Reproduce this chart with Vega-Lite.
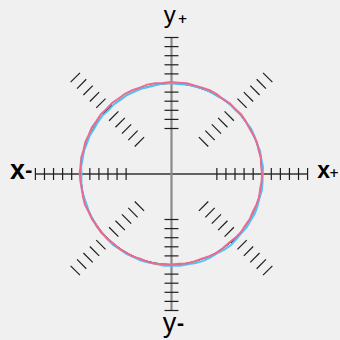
{
  "$schema": "https://vega.github.io/schema/vega-lite/v6.json",
  "width": 340,
  "height": 340,
  "autosize": {"type": "fit", "contains": "padding"},
  "padding": 0,
  "background": "#f0f0f0",
  "config": {"view": {"stroke": null}},
  "datasets": {
    "axes": [
      {"axis": "h", "x": -1.5, "x2": 1.5, "y": 0, "y2": 0},
      {"axis": "v", "x": 0, "x2": 0, "y": -1.5, "y2": 1.5}
    ],
    "ticks": [
      {"x": -1.5, "x2": -1.5, "y": -0.066, "y2": 0.066},
      {"x": -1.4, "x2": -1.4, "y": -0.066, "y2": 0.066},
      {"x": -1.3, "x2": -1.3, "y": -0.066, "y2": 0.066},
      {"x": -1.2, "x2": -1.2, "y": -0.066, "y2": 0.066},
      {"x": -1.1, "x2": -1.1, "y": -0.066, "y2": 0.066},
      {"x": -1.0, "x2": -1.0, "y": -0.066, "y2": 0.066},
      {"x": -0.9, "x2": -0.9, "y": -0.066, "y2": 0.066},
      {"x": -0.8, "x2": -0.8, "y": -0.066, "y2": 0.066},
      {"x": -0.7, "x2": -0.7, "y": -0.066, "y2": 0.066},
      {"x": -0.6, "x2": -0.6, "y": -0.066, "y2": 0.066},
      {"x": -0.5, "x2": -0.5, "y": -0.066, "y2": 0.066},
      {"x": 0.5, "x2": 0.5, "y": -0.066, "y2": 0.066},
      {"x": 0.6, "x2": 0.6, "y": -0.066, "y2": 0.066},
      {"x": 0.7, "x2": 0.7, "y": -0.066, "y2": 0.066},
      {"x": 0.8, "x2": 0.8, "y": -0.066, "y2": 0.066},
      {"x": 0.9, "x2": 0.9, "y": -0.066, "y2": 0.066},
      {"x": 1.0, "x2": 1.0, "y": -0.066, "y2": 0.066},
      {"x": 1.1, "x2": 1.1, "y": -0.066, "y2": 0.066},
      {"x": 1.2, "x2": 1.2, "y": -0.066, "y2": 0.066},
      {"x": 1.3, "x2": 1.3, "y": -0.066, "y2": 0.066},
      {"x": 1.4, "x2": 1.4, "y": -0.066, "y2": 0.066},
      {"x": 1.5, "x2": 1.5, "y": -0.066, "y2": 0.066},
      {"x": -0.077, "x2": 0.077, "y": -1.5, "y2": -1.5},
      {"x": -0.077, "x2": 0.077, "y": -1.4, "y2": -1.4},
      {"x": -0.077, "x2": 0.077, "y": -1.3, "y2": -1.3},
      {"x": -0.077, "x2": 0.077, "y": -1.2, "y2": -1.2},
      {"x": -0.077, "x2": 0.077, "y": -1.1, "y2": -1.1},
      {"x": -0.077, "x2": 0.077, "y": -1.0, "y2": -1.0},
      {"x": -0.077, "x2": 0.077, "y": -0.9, "y2": -0.9},
      {"x": -0.077, "x2": 0.077, "y": -0.8, "y2": -0.8},
      {"x": -0.077, "x2": 0.077, "y": -0.7, "y2": -0.7},
      {"x": -0.077, "x2": 0.077, "y": -0.6, "y2": -0.6},
      {"x": -0.077, "x2": 0.077, "y": -0.5, "y2": -0.5},
      {"x": -0.077, "x2": 0.077, "y": 0.5, "y2": 0.5},
      {"x": -0.077, "x2": 0.077, "y": 0.6, "y2": 0.6},
      {"x": -0.077, "x2": 0.077, "y": 0.7, "y2": 0.7},
      {"x": -0.077, "x2": 0.077, "y": 0.8, "y2": 0.8},
      {"x": -0.077, "x2": 0.077, "y": 0.9, "y2": 0.9},
      {"x": -0.077, "x2": 0.077, "y": 1.0, "y2": 1.0},
      {"x": -0.077, "x2": 0.077, "y": 1.1, "y2": 1.1},
      {"x": -0.077, "x2": 0.077, "y": 1.2, "y2": 1.2},
      {"x": -0.077, "x2": 0.077, "y": 1.3, "y2": 1.3},
      {"x": -0.077, "x2": 0.077, "y": 1.4, "y2": 1.4},
      {"x": -0.077, "x2": 0.077, "y": 1.5, "y2": 1.5},
      {"x": 0.302, "y": 0.405, "x2": 0.405, "y2": 0.302},
      {"x": 0.373, "y": 0.476, "x2": 0.476, "y2": 0.373},
      {"x": 0.444, "y": 0.546, "x2": 0.546, "y2": 0.444},
      {"x": 0.514, "y": 0.617, "x2": 0.617, "y2": 0.514},
      {"x": 0.585, "y": 0.688, "x2": 0.688, "y2": 0.585},
      {"x": 0.656, "y": 0.758, "x2": 0.758, "y2": 0.656},
      {"x": 0.727, "y": 0.829, "x2": 0.829, "y2": 0.727},
      {"x": 0.797, "y": 0.900, "x2": 0.900, "y2": 0.797},
      {"x": 0.868, "y": 0.971, "x2": 0.971, "y2": 0.868},
      {"x": 0.939, "y": 1.041, "x2": 1.041, "y2": 0.939},
      {"x": 1.009, "y": 1.112, "x2": 1.112, "y2": 1.009},
      {"x": -0.405, "y": 0.302, "x2": -0.302, "y2": 0.405},
      {"x": -0.476, "y": 0.373, "x2": -0.373, "y2": 0.476},
      {"x": -0.546, "y": 0.444, "x2": -0.444, "y2": 0.546},
      {"x": -0.617, "y": 0.514, "x2": -0.514, "y2": 0.617},
      {"x": -0.688, "y": 0.585, "x2": -0.585, "y2": 0.688},
      {"x": -0.758, "y": 0.656, "x2": -0.656, "y2": 0.758},
      {"x": -0.829, "y": 0.727, "x2": -0.727, "y2": 0.829},
      {"x": -0.900, "y": 0.797, "x2": -0.797, "y2": 0.900},
      {"x": -0.971, "y": 0.868, "x2": -0.868, "y2": 0.971},
      {"x": -1.041, "y": 0.939, "x2": -0.939, "y2": 1.041},
      {"x": -1.112, "y": 1.009, "x2": -1.009, "y2": 1.112},
      {"x": -0.405, "y": -0.302, "x2": -0.302, "y2": -0.405},
      {"x": -0.476, "y": -0.373, "x2": -0.373, "y2": -0.476},
      {"x": -0.546, "y": -0.444, "x2": -0.444, "y2": -0.546},
      {"x": -0.617, "y": -0.514, "x2": -0.514, "y2": -0.617},
      {"x": -0.688, "y": -0.585, "x2": -0.585, "y2": -0.688},
      {"x": -0.758, "y": -0.656, "x2": -0.656, "y2": -0.758},
      {"x": -0.829, "y": -0.727, "x2": -0.727, "y2": -0.829},
      {"x": -0.900, "y": -0.797, "x2": -0.797, "y2": -0.900},
      {"x": -0.971, "y": -0.868, "x2": -0.868, "y2": -0.971},
      {"x": -1.041, "y": -0.939, "x2": -0.939, "y2": -1.041},
      {"x": -1.112, "y": -1.009, "x2": -1.009, "y2": -1.112},
      {"x": 0.302, "y": -0.405, "x2": 0.405, "y2": -0.302},
      {"x": 0.373, "y": -0.476, "x2": 0.476, "y2": -0.373},
      {"x": 0.444, "y": -0.546, "x2": 0.546, "y2": -0.444},
      {"x": 0.514, "y": -0.617, "x2": 0.617, "y2": -0.514},
      {"x": 0.585, "y": -0.688, "x2": 0.688, "y2": -0.585},
      {"x": 0.656, "y": -0.758, "x2": 0.758, "y2": -0.656},
      {"x": 0.727, "y": -0.829, "x2": 0.829, "y2": -0.727},
      {"x": 0.797, "y": -0.900, "x2": 0.900, "y2": -0.797},
      {"x": 0.868, "y": -0.971, "x2": 0.971, "y2": -0.868},
      {"x": 0.939, "y": -1.041, "x2": 1.041, "y2": -0.939},
      {"x": 1.009, "y": -1.112, "x2": 1.112, "y2": -1.009}
    ],
    "centre": [{"x": 0, "y": 0}],
    "pink": [
      {"i": 0, "x": 0.998, "y": 0.006}, {"i": 1, "x": 0.987, "y": 0.093}, {"i": 2, "x": 0.985, "y": 0.181},
      {"i": 3, "x": 0.960, "y": 0.265}, {"i": 4, "x": 0.941, "y": 0.351}, {"i": 5, "x": 0.902, "y": 0.429},
      {"i": 6, "x": 0.857, "y": 0.504}, {"i": 7, "x": 0.817, "y": 0.582}, {"i": 8, "x": 0.768, "y": 0.655},
      {"i": 9, "x": 0.703, "y": 0.715}, {"i": 10, "x": 0.642, "y": 0.778}, {"i": 11, "x": 0.566, "y": 0.824},
      {"i": 12, "x": 0.497, "y": 0.877}, {"i": 13, "x": 0.421, "y": 0.921}, {"i": 14, "x": 0.337, "y": 0.949},
      {"i": 15, "x": 0.253, "y": 0.972}, {"i": 16, "x": 0.169, "y": 0.998}, {"i": 17, "x": 0.081, "y": 1.004},
      {"i": 18, "x": -0.006, "y": 1.011}, {"i": 19, "x": -0.093, "y": 1.000}, {"i": 20, "x": -0.181, "y": 0.997},
      {"i": 21, "x": -0.267, "y": 0.982}, {"i": 22, "x": -0.349, "y": 0.949}, {"i": 23, "x": -0.432, "y": 0.920},
      {"i": 24, "x": -0.512, "y": 0.882}, {"i": 25, "x": -0.583, "y": 0.830}, {"i": 26, "x": -0.655, "y": 0.780},
      {"i": 27, "x": -0.716, "y": 0.716}, {"i": 28, "x": -0.779, "y": 0.655}, {"i": 29, "x": -0.827, "y": 0.581},
      {"i": 30, "x": -0.878, "y": 0.510}, {"i": 31, "x": -0.912, "y": 0.429}, {"i": 32, "x": -0.950, "y": 0.350},
      {"i": 33, "x": -0.969, "y": 0.264}, {"i": 34, "x": -0.995, "y": 0.180}, {"i": 35, "x": -1.002, "y": 0.093},
      {"i": 36, "x": -1.012, "y": 0.006}, {"i": 37, "x": -1.004, "y": -0.081}, {"i": 38, "x": -0.987, "y": -0.167},
      {"i": 39, "x": -0.975, "y": -0.254}, {"i": 40, "x": -0.953, "y": -0.339}, {"i": 41, "x": -0.912, "y": -0.417},
      {"i": 42, "x": -0.876, "y": -0.497}, {"i": 43, "x": -0.824, "y": -0.567}, {"i": 44, "x": -0.777, "y": -0.641},
      {"i": 45, "x": -0.715, "y": -0.703}, {"i": 46, "x": -0.647, "y": -0.758}, {"i": 47, "x": -0.582, "y": -0.817},
      {"i": 48, "x": -0.506, "y": -0.860}, {"i": 49, "x": -0.431, "y": -0.906}, {"i": 50, "x": -0.347, "y": -0.932},
      {"i": 51, "x": -0.266, "y": -0.963}, {"i": 52, "x": -0.181, "y": -0.986}, {"i": 53, "x": -0.093, "y": -0.990},
      {"i": 54, "x": -0.006, "y": -0.998}, {"i": 55, "x": 0.081, "y": -0.987}, {"i": 56, "x": 0.168, "y": -0.984},
      {"i": 57, "x": 0.253, "y": -0.960}, {"i": 58, "x": 0.335, "y": -0.930}, {"i": 59, "x": 0.418, "y": -0.903},
      {"i": 60, "x": 0.497, "y": -0.866}, {"i": 61, "x": 0.568, "y": -0.813}, {"i": 62, "x": 0.634, "y": -0.756},
      {"i": 63, "x": 0.702, "y": -0.702}, {"i": 64, "x": 0.765, "y": -0.641}, {"i": 65, "x": 0.812, "y": -0.566},
      {"i": 66, "x": 0.863, "y": -0.495}, {"i": 67, "x": 0.897, "y": -0.415}, {"i": 68, "x": 0.936, "y": -0.337},
      {"i": 69, "x": 0.966, "y": -0.254}, {"i": 70, "x": 0.977, "y": -0.167}, {"i": 71, "x": 0.993, "y": -0.081},
      {"i": 72, "x": 0.998, "y": 0.006}
    ],
    "cyan": [
      {"i": 0, "x": 1.006, "y": -0.006}, {"i": 1, "x": 1.008, "y": 0.082}, {"i": 2, "x": 0.989, "y": 0.167},
      {"i": 3, "x": 0.976, "y": 0.254}, {"i": 4, "x": 0.942, "y": 0.335}, {"i": 5, "x": 0.914, "y": 0.417},
      {"i": 6, "x": 0.878, "y": 0.498}, {"i": 7, "x": 0.824, "y": 0.566}, {"i": 8, "x": 0.774, "y": 0.639},
      {"i": 9, "x": 0.710, "y": 0.698}, {"i": 10, "x": 0.649, "y": 0.761}, {"i": 11, "x": 0.583, "y": 0.818},
      {"i": 12, "x": 0.505, "y": 0.857}, {"i": 13, "x": 0.429, "y": 0.902}, {"i": 14, "x": 0.350, "y": 0.939},
      {"i": 15, "x": 0.265, "y": 0.959}, {"i": 16, "x": 0.180, "y": 0.983}, {"i": 17, "x": 0.093, "y": 0.986},
      {"i": 18, "x": 0.006, "y": 0.996}, {"i": 19, "x": -0.082, "y": 0.996}, {"i": 20, "x": -0.168, "y": 0.979},
      {"i": 21, "x": -0.252, "y": 0.956}, {"i": 22, "x": -0.337, "y": 0.937}, {"i": 23, "x": -0.416, "y": 0.899},
      {"i": 24, "x": -0.497, "y": 0.864}, {"i": 25, "x": -0.566, "y": 0.811}, {"i": 26, "x": -0.638, "y": 0.762},
      {"i": 27, "x": -0.698, "y": 0.698}, {"i": 28, "x": -0.763, "y": 0.639}, {"i": 29, "x": -0.813, "y": 0.568},
      {"i": 30, "x": -0.856, "y": 0.492}, {"i": 31, "x": -0.903, "y": 0.418}, {"i": 32, "x": -0.932, "y": 0.335},
      {"i": 33, "x": -0.965, "y": 0.254}, {"i": 34, "x": -0.979, "y": 0.168}, {"i": 35, "x": -0.996, "y": 0.082},
      {"i": 36, "x": -0.992, "y": -0.006}, {"i": 37, "x": -0.994, "y": -0.094}, {"i": 38, "x": -0.987, "y": -0.181},
      {"i": 39, "x": -0.961, "y": -0.265}, {"i": 40, "x": -0.931, "y": -0.347}, {"i": 41, "x": -0.906, "y": -0.431},
      {"i": 42, "x": -0.862, "y": -0.507}, {"i": 43, "x": -0.820, "y": -0.584}, {"i": 44, "x": -0.760, "y": -0.649},
      {"i": 45, "x": -0.705, "y": -0.717}, {"i": 46, "x": -0.643, "y": -0.779}, {"i": 47, "x": -0.569, "y": -0.827},
      {"i": 48, "x": -0.498, "y": -0.878}, {"i": 49, "x": -0.417, "y": -0.912}, {"i": 50, "x": -0.338, "y": -0.951},
      {"i": 51, "x": -0.253, "y": -0.974}, {"i": 52, "x": -0.167, "y": -0.988}, {"i": 53, "x": -0.082, "y": -1.007},
      {"i": 54, "x": 0.006, "y": -1.006}, {"i": 55, "x": 0.094, "y": -1.008}, {"i": 56, "x": 0.180, "y": -0.992},
      {"i": 57, "x": 0.267, "y": -0.979}, {"i": 58, "x": 0.351, "y": -0.955}, {"i": 59, "x": 0.430, "y": -0.915},
      {"i": 60, "x": 0.505, "y": -0.870}, {"i": 61, "x": 0.583, "y": -0.830}, {"i": 62, "x": 0.655, "y": -0.780},
      {"i": 63, "x": 0.716, "y": -0.716}, {"i": 64, "x": 0.771, "y": -0.648}, {"i": 65, "x": 0.830, "y": -0.583},
      {"i": 66, "x": 0.874, "y": -0.507}, {"i": 67, "x": 0.920, "y": -0.432}, {"i": 68, "x": 0.949, "y": -0.349},
      {"i": 69, "x": 0.970, "y": -0.264}, {"i": 70, "x": 0.996, "y": -0.180}, {"i": 71, "x": 1.003, "y": -0.093},
      {"i": 72, "x": 1.006, "y": -0.006}
    ],
    "xLeft": [{"x": -1.698, "y": -0.058, "t": "x"}],
    "xRight": [{"x": 1.676, "y": -0.041, "t": "x"}],
    "yTop": [{"x": -0.019, "y": 1.663, "t": "y"}],
    "yBottom": [{"x": -0.022, "y": -1.733, "t": "y"}],
    "plusSigns": [
      {"x": 1.791, "y": -0.033, "t": "+"},
      {"x": 0.121, "y": 1.655, "t": "+"}
    ],
    "minusSigns": [
      {"x": -1.574, "y": -0.030, "t": "-"},
      {"x": 0.099, "y": -1.719, "t": "-"}
    ]
  },
  "encoding": {
    "x": {"field": "x", "type": "quantitative", "axis": null, "scale": {"domain": [-1.8901, 1.8462], "nice": false, "zero": false}},
    "y": {"field": "y", "type": "quantitative", "axis": null, "scale": {"domain": [-1.8242, 1.9121], "nice": false, "zero": false}}
  },
  "layer": [
    {
      "data": {"name": "axes"},
      "transform": [{"filter": "datum.axis == 'h'"}],
      "mark": {"type": "rule", "color": "#333333", "strokeWidth": 1.5},
      "encoding": {"x2": {"field": "x2"}, "y2": {"field": "y2"}}
    },
    {
      "data": {"name": "axes"},
      "transform": [{"filter": "datum.axis == 'v'"}],
      "mark": {"type": "rule", "color": "#8a8a8a", "strokeWidth": 2.2},
      "encoding": {"x2": {"field": "x2"}, "y2": {"field": "y2"}}
    },
    {
      "data": {"name": "ticks"},
      "mark": {"type": "rule", "color": "#1e1e1e", "strokeWidth": 1.2},
      "encoding": {"x2": {"field": "x2"}, "y2": {"field": "y2"}}
    },
    {
      "data": {"name": "centre"},
      "mark": {"type": "point", "shape": "circle", "filled": false, "stroke": "#222222", "strokeWidth": 1, "size": 32761, "opacity": 1}
    },
    {
      "data": {"name": "cyan"},
      "mark": {"type": "line", "color": "#4fc3f7", "strokeWidth": 2},
      "encoding": {"order": {"field": "i", "type": "quantitative"}}
    },
    {
      "data": {"name": "pink"},
      "mark": {"type": "line", "color": "#ec6a8f", "strokeWidth": 2},
      "encoding": {"order": {"field": "i", "type": "quantitative"}}
    },
    {
      "data": {"name": "xLeft"},
      "mark": {"type": "text", "font": "Liberation Sans", "fontSize": 27, "fontWeight": "bold", "align": "center", "baseline": "alphabetic", "color": "#000000"},
      "encoding": {"text": {"field": "t"}}
    },
    {
      "data": {"name": "xRight"},
      "mark": {"type": "text", "font": "Liberation Sans", "fontSize": 23, "fontWeight": "bold", "align": "center", "baseline": "alphabetic", "color": "#000000"},
      "encoding": {"text": {"field": "t"}}
    },
    {
      "data": {"name": "yTop"},
      "mark": {"type": "text", "font": "Liberation Sans", "fontSize": 24, "align": "center", "baseline": "alphabetic", "color": "#000000"},
      "encoding": {"text": {"field": "t"}}
    },
    {
      "data": {"name": "yBottom"},
      "mark": {"type": "text", "font": "Liberation Sans", "fontSize": 27, "align": "center", "baseline": "alphabetic", "color": "#000000"},
      "encoding": {"text": {"field": "t"}}
    },
    {
      "data": {"name": "plusSigns"},
      "mark": {"type": "text", "font": "DejaVu Sans", "fontSize": 12, "fontWeight": "bold", "align": "center", "baseline": "alphabetic", "color": "#000000"},
      "encoding": {"text": {"field": "t"}}
    },
    {
      "data": {"name": "minusSigns"},
      "mark": {"type": "text", "font": "DejaVu Sans", "fontSize": 18, "fontWeight": "bold", "align": "center", "baseline": "alphabetic", "color": "#000000"},
      "encoding": {"text": {"field": "t"}}
    }
  ]
}
